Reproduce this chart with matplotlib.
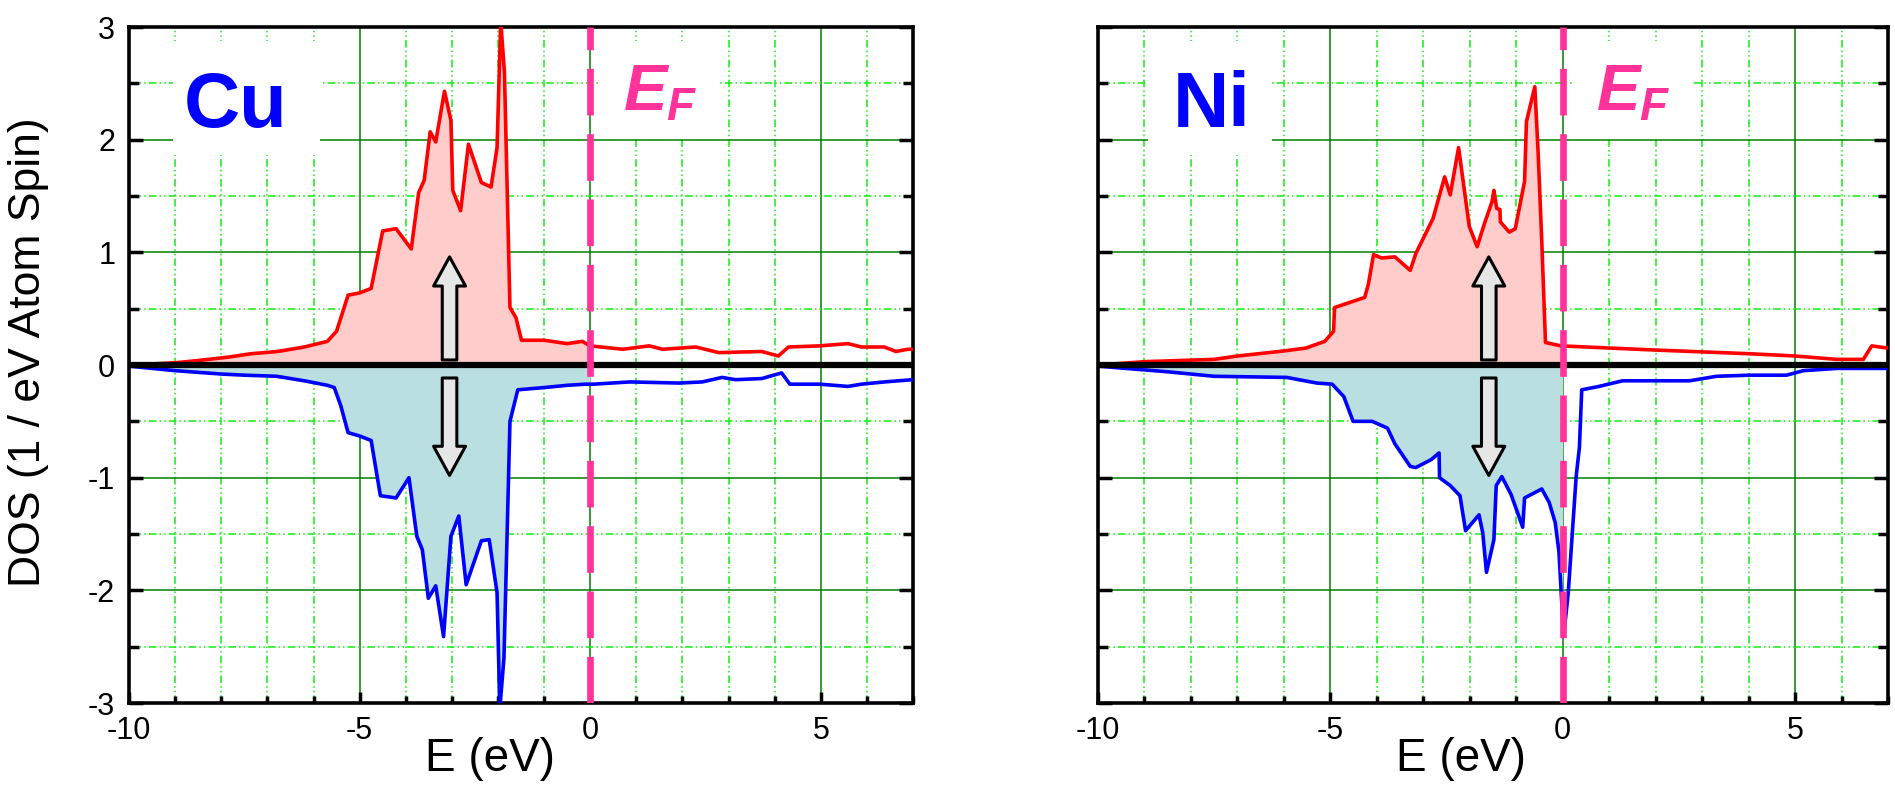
import numpy as np
import matplotlib
matplotlib.use("Agg")
import matplotlib.pyplot as plt
from matplotlib.ticker import MultipleLocator
from matplotlib.patches import Rectangle

plt.rcParams['font.family'] = ['Liberation Sans', 'DejaVu Sans']
plt.rcParams['axes.unicode_minus'] = False
plt.rcParams['mathtext.fontset'] = 'custom'
plt.rcParams['mathtext.it'] = 'Liberation Sans:italic:bold'
plt.rcParams['mathtext.rm'] = 'Liberation Sans:bold'

# Cu, spin up / spin down  (E in eV, DOS)
cu_up_e = [-10.0, -9.0, -8.5, -7.85, -7.36, -6.78, -6.2, -5.7, -5.5, -5.25, -5.0, -4.75,
           -4.5, -4.21, -3.88, -3.72, -3.6, -3.47, -3.35, -3.16, -3.02, -2.98, -2.81,
           -2.64, -2.36, -2.15, -2.02, -1.94, -1.86, -1.74, -1.61, -1.49, -1.0, -0.5,
           -0.17, 0.0, 0.71, 1.28, 1.57, 2.29, 2.79, 3.72, 4.08, 4.3, 4.98, 5.59, 5.88,
           6.38, 6.63, 6.88, 7.0]
cu_up = [0.0, 0.02, 0.04, 0.07, 0.10, 0.12, 0.16, 0.21, 0.30, 0.62, 0.64, 0.68,
         1.19, 1.21, 1.03, 1.53, 1.64, 2.07, 1.98, 2.43, 2.17, 1.55, 1.37,
         1.96, 1.62, 1.58, 1.93, 3.05, 2.6, 0.51, 0.42, 0.22, 0.22, 0.19,
         0.21, 0.17, 0.14, 0.17, 0.14, 0.16, 0.11, 0.12, 0.08, 0.16, 0.17, 0.19, 0.16,
         0.16, 0.12, 0.14, 0.14]

cu_dn_e = [-10.0, -9.0, -8.0, -7.5, -6.8, -6.2, -5.7, -5.55, -5.41, -5.25, -5.0, -4.75,
           -4.55, -4.21, -3.93, -3.76, -3.64, -3.51, -3.35, -3.18, -3.02, -2.85, -2.69,
           -2.36, -2.19, -2.02, -1.96, -1.87, -1.74, -1.57, -1.0, -0.5, -0.1, 0.07,
           0.86, 1.93, 2.43, 2.86, 3.15, 3.72, 4.15, 4.33, 4.98, 5.59, 5.88, 6.38, 7.0]
cu_dn = [-0.01, -0.05, -0.08, -0.09, -0.10, -0.14, -0.18, -0.20, -0.36, -0.60, -0.63, -0.67,
         -1.16, -1.18, -1.00, -1.52, -1.64, -2.07, -1.96, -2.41, -1.52, -1.34, -1.95,
         -1.56, -1.55, -2.02, -3.05, -2.6, -0.50, -0.22, -0.20, -0.18, -0.17, -0.17,
         -0.15, -0.16, -0.15, -0.11, -0.13, -0.12, -0.07, -0.17, -0.17, -0.19, -0.17, -0.15, -0.13]

# Ni, spin up / spin down
ni_up_e = [-10.0, -8.98, -7.5, -7.0, -6.1, -5.53, -5.12, -4.93, -4.91, -4.26, -4.18, -4.07,
           -3.9, -3.61, -3.28, -3.16, -2.79, -2.54, -2.42, -2.24, -2.01, -1.84, -1.68,
           -1.52, -1.48, -1.42, -1.35, -1.34, -1.15, -1.02, -0.82, -0.78, -0.6, -0.53,
           -0.45, -0.37, -0.04, 1.87, 4.03, 5.0, 5.9, 6.47, 6.65, 7.0]
ni_up = [0.0, 0.03, 0.05, 0.08, 0.12, 0.15, 0.21, 0.30, 0.51, 0.60, 0.72, 0.98,
         0.95, 0.96, 0.84, 0.99, 1.30, 1.67, 1.51, 1.93, 1.23, 1.05, 1.26,
         1.45, 1.55, 1.39, 1.38, 1.27, 1.18, 1.21, 1.63, 2.16, 2.47, 1.9,
         1.1, 0.20, 0.17, 0.135, 0.10, 0.08, 0.05, 0.05, 0.17, 0.15]

ni_dn_e = [-10.0, -8.5, -7.5, -5.94, -5.29, -4.96, -4.71, -4.51, -4.1, -3.77, -3.61, -3.28,
           -3.16, -2.83, -2.66, -2.65, -2.42, -2.21, -2.09, -1.8, -1.72, -1.64, -1.48,
           -1.43, -1.31, -1.11, -0.98, -0.86, -0.82, -0.45, -0.29, -0.16, -0.08, 0.02,
           0.12, 0.29, 0.36, 0.41, 0.78, 1.29, 1.87, 2.73, 3.31, 4.03, 4.82, 5.18, 5.9, 7.0]
ni_dn = [-0.01, -0.06, -0.10, -0.11, -0.16, -0.17, -0.28, -0.50, -0.50, -0.56, -0.70, -0.90,
         -0.91, -0.84, -0.78, -1.00, -1.07, -1.16, -1.47, -1.33, -1.49, -1.84, -1.55,
         -1.07, -0.99, -1.15, -1.30, -1.44, -1.18, -1.10, -1.22, -1.40, -1.66, -2.41,
         -2.02, -0.99, -0.73, -0.22, -0.19, -0.14, -0.14, -0.14, -0.10, -0.09, -0.09, -0.05, -0.03, -0.03]

elements = ['Cu', 'Ni']
arrow_x = [-3.05, -1.59]
name_box = [(-9.05, -5.87), (-8.92, -6.26)]
name_x = [-7.7, -7.56]

UP_LINE, UP_FILL = '#FF0000', '#FFCCCC'
DN_LINE, DN_FILL = '#0000FF', '#B9DFE1'
EF_COLOR = '#FF3399'


def occupied(e, d):
    e = np.asarray(e)
    d = np.asarray(d)
    m = e < 0
    return np.append(e[m], 0.0), np.append(d[m], np.interp(0.0, e, d))


fig = plt.figure(figsize=(18.95, 7.95), dpi=100)
ax1 = fig.add_axes([0.0681, 0.1157, 0.4137, 0.8503])
ax2 = fig.add_axes([0.5794, 0.1157, 0.4169, 0.8503])

data = [(cu_up_e, cu_up, cu_dn_e, cu_dn), (ni_up_e, ni_up, ni_dn_e, ni_dn)]

for i, ax in enumerate([ax1, ax2]):
    ue, u, de, dd = data[i]
    ax.set_xlim(-10, 7)
    ax.set_ylim(-3, 3)
    ax.set_axisbelow(True)

    ax.xaxis.set_major_locator(MultipleLocator(5))
    ax.xaxis.set_minor_locator(MultipleLocator(1))
    ax.yaxis.set_major_locator(MultipleLocator(1))
    ax.yaxis.set_minor_locator(MultipleLocator(0.5))

    ax.grid(which='major', color='#008000', lw=1.1, ls='-')
    ax.grid(which='minor', color='#11EE11', lw=1.1, ls=(0, (5, 2, 1, 2, 1, 2)))

    for s in ax.spines.values():
        s.set_linewidth(2.6)

    ax.tick_params(axis='x', which='major', direction='in', length=8, width=2.5,
                   labelsize=22, pad=9, top=False)
    ax.tick_params(axis='x', which='minor', direction='in', length=5, width=2.5, top=False)
    ax.tick_params(axis='y', which='major', direction='in', length=10, width=2.5,
                   labelsize=22, pad=10, right=True)
    ax.tick_params(axis='y', which='minor', direction='in', length=7, width=2.5, right=True)
    ax.set_xticks([-10, -5, 0, 5])
    ax.set_xticklabels(['-10', '-5', '0', '5'])
    if i == 0:
        ax.set_yticks([-3, -2, -1, 0, 1, 2, 3])
        ax.set_yticklabels(['-3', '-2', '-1', '0', '1', '2', '3'])
    else:
        ax.tick_params(axis='y', which='both', labelleft=False)

    # white boxes behind the labels
    x0, x1 = name_box[i]
    ax.add_patch(Rectangle((x0, 1.86), x1 - x0, 1.02, fc='white', ec='none', zorder=1))
    ax.add_patch(Rectangle((0.22, 2.02), 2.55, 0.86, fc='white', ec='none', zorder=1))

    fe, fu = occupied(ue, u)
    ax.fill_between(fe, fu, 0, color=UP_FILL, lw=0, zorder=2)
    fe, fd = occupied(de, dd)
    ax.fill_between(fe, fd, 0, color=DN_FILL, lw=0, zorder=2)

    ax.plot(ue, u, color=UP_LINE, lw=2.6, zorder=3)
    ax.plot(de, dd, color=DN_LINE, lw=2.6, zorder=3)

    ax.axhline(0, color='black', lw=4.5, zorder=4)
    ax.axvline(0, color=EF_COLOR, lw=4.8, dashes=(7, 2.8), zorder=5)

    xa = arrow_x[i]
    style = 'simple,head_length=2.1,head_width=2.3,tail_width=1.05'
    ax.annotate('', xy=(xa, 0.96), xytext=(xa, 0.045),
                arrowprops=dict(arrowstyle=style, fc='#E6E6E6', ec='black', lw=2.2,
                                shrinkA=0, shrinkB=0, mutation_scale=10), zorder=6)
    ax.annotate('', xy=(xa, -0.98), xytext=(xa, -0.115),
                arrowprops=dict(arrowstyle=style, fc='#E6E6E6', ec='black', lw=2.2,
                                shrinkA=0, shrinkB=0, mutation_scale=10), zorder=6)

    ax.text(name_x[i], 2.11, elements[i], color='#0000FF', fontsize=56,
            fontweight='bold', ha='center', va='baseline', zorder=7)
    ax.text(0.72, 2.26, r'$E_F$', color=EF_COLOR, fontsize=47,
            ha='left', va='baseline', zorder=7)

    ax.set_xlabel('E (eV)', fontsize=33)
    ax.xaxis.set_label_coords(0.46, -0.083)
    ax.xaxis.label.set_va('center')

fig.text(0.0148, 0.557, 'DOS (1 / eV Atom Spin)', rotation=90, ha='center',
         va='center', fontsize=32)

fig.savefig('out.png', dpi=100)
